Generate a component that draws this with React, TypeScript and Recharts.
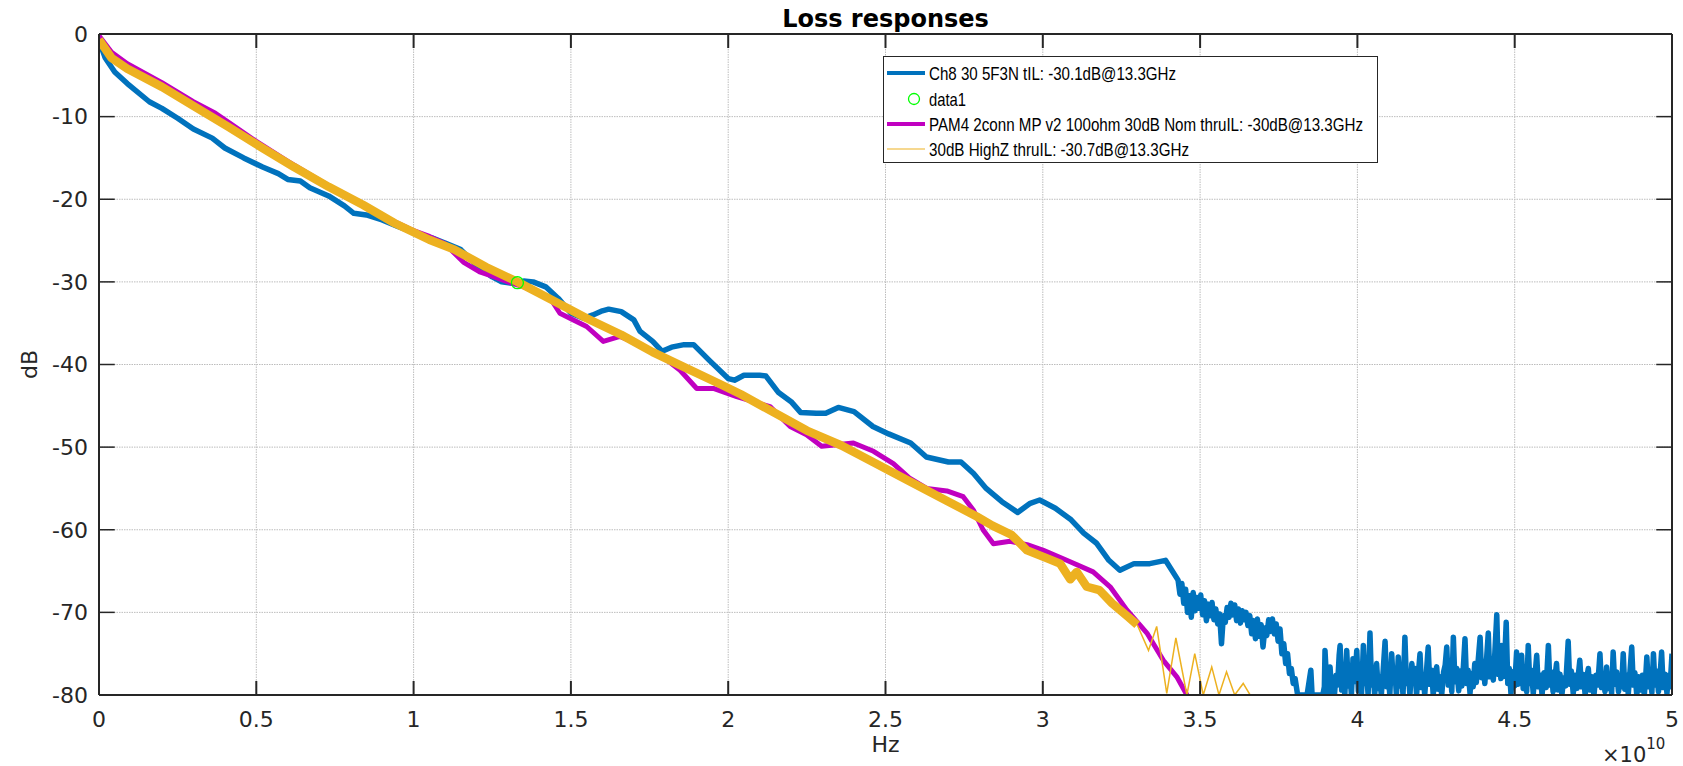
import { ComposedChart, Line, Scatter, XAxis, YAxis, CartesianGrid, ReferenceLine, Legend } from 'recharts';

// frequency in units of 1e10 Hz, loss in dB
const X_TICKS = [0, 0.5, 1, 1.5, 2, 2.5, 3, 3.5, 4, 4.5, 5];
const Y_TICKS = [-80, -70, -60, -50, -40, -30, -20, -10, 0];

const CH8_TREND: [number, number][] = [
    [0, -0.8], [0.02, -2.9], [0.05, -4.6], [0.09, -6.0], [0.16, -8.2], [0.2, -9.0], [0.25, -10.2],
    [0.3, -11.5], [0.36, -12.6], [0.4, -13.8], [0.46, -15.0], [0.52, -16.1], [0.57, -16.9], [0.6, -17.6],
    [0.64, -17.8], [0.67, -18.6], [0.73, -19.6], [0.78, -20.8], [0.81, -21.7], [0.85, -21.9], [0.9, -22.5],
    [0.95, -23.3], [1.0, -24.0], [1.06, -24.7], [1.1, -25.3], [1.15, -26.1], [1.2, -28.0], [1.25, -29.4],
    [1.28, -30.0], [1.32, -30.2], [1.35, -29.9], [1.38, -30.0], [1.42, -30.6], [1.46, -32.0], [1.5, -33.8],
    [1.54, -34.4], [1.57, -34.0], [1.6, -33.5], [1.62, -33.3], [1.66, -33.6], [1.7, -34.6], [1.72, -36.0],
    [1.76, -37.2], [1.79, -38.4], [1.82, -37.9], [1.86, -37.6], [1.89, -37.6], [1.94, -39.5], [2.0, -41.7],
    [2.02, -41.9], [2.05, -41.3], [2.1, -41.3], [2.12, -41.4], [2.16, -43.4], [2.2, -44.5], [2.23, -45.8],
    [2.28, -45.9], [2.31, -45.9], [2.35, -45.2], [2.4, -45.7], [2.46, -47.5], [2.51, -48.4], [2.58, -49.5],
    [2.63, -51.2], [2.7, -51.8], [2.74, -51.8], [2.78, -53.2], [2.82, -55.0], [2.87, -56.6], [2.92, -57.9],
    [2.96, -56.8], [2.99, -56.4], [3.04, -57.4], [3.09, -58.8], [3.13, -60.4], [3.17, -61.6], [3.21, -63.7],
    [3.245, -64.9], [3.29, -64.1], [3.34, -64.1], [3.39, -63.7], [3.43, -66.1],
];

const CH8_BAND: [number, number][] = [
    [3.436, -67.8], [3.442, -66.5], [3.448, -68.9], [3.454, -67.2], [3.46, -70.0], [3.466, -68.0],
    [3.472, -70.6], [3.478, -67.6], [3.484, -69.8], [3.49, -68.2], [3.496, -69.5], [3.502, -67.9],
    [3.508, -70.3], [3.514, -68.6], [3.52, -71.0], [3.526, -69.0], [3.532, -70.4], [3.538, -68.8],
    [3.544, -70.9], [3.55, -69.6], [3.556, -71.4], [3.562, -70.2], [3.568, -73.8], [3.574, -70.4],
    [3.58, -71.2], [3.586, -69.4], [3.592, -70.6], [3.598, -68.9], [3.604, -70.3], [3.61, -69.1],
    [3.616, -71.0], [3.622, -69.6], [3.628, -71.3], [3.634, -69.8], [3.64, -70.9], [3.646, -70.0],
    [3.652, -71.6], [3.658, -70.4], [3.664, -72.6], [3.67, -71.0], [3.676, -73.2], [3.682, -70.8],
    [3.688, -72.9], [3.694, -71.5], [3.7, -74.2], [3.706, -71.9], [3.712, -72.8], [3.718, -70.9],
    [3.724, -72.3], [3.73, -70.8], [3.736, -72.6], [3.742, -71.4], [3.748, -73.5], [3.754, -72.0],
    [3.76, -75.0], [3.766, -73.8], [3.772, -76.2], [3.778, -75.0], [3.784, -77.4], [3.79, -76.8],
    [3.796, -78.6], [3.802, -78.0], [3.81, -80],
];

const CH8_FLOOR: [number, number][] = [
    [3.82, -80], [3.84, -80], [3.848, -78.0], [3.852, -77.0], [3.856, -80], [3.89, -80], [3.895, -79.0],
    [3.897, -74.6], [3.902, -78.2], [3.906, -80], [3.91, -77.4], [3.913, -76.6], [3.918, -79.6], [3.922, -77.9],
    [3.927, -80], [3.932, -77.6], [3.937, -78.8], [3.942, -75.2], [3.945, -74.0], [3.95, -79.4], [3.955, -77.8],
    [3.96, -80], [3.966, -74.6], [3.971, -78.9], [3.976, -77.2], [3.981, -80], [3.986, -75.6], [3.99, -78.4],
    [3.994, -77.0], [3.998, -74.6], [4.003, -79.5], [4.008, -77.6], [4.013, -80], [4.019, -74.0], [4.024, -78.6],
    [4.029, -77.1], [4.034, -80], [4.04, -72.5], [4.045, -78.8], [4.05, -77.3], [4.055, -80], [4.061, -76.2],
    [4.066, -79.2], [4.071, -77.8], [4.076, -80], [4.082, -77.0], [4.088, -73.5], [4.093, -79.0], [4.098, -77.4],
    [4.103, -80], [4.109, -75.0], [4.114, -78.5], [4.119, -76.9], [4.124, -80], [4.13, -75.4], [4.135, -78.9],
    [4.14, -77.2], [4.145, -80], [4.151, -73.0], [4.156, -78.6], [4.162, -77.5], [4.167, -80], [4.173, -76.2],
    [4.178, -78.4], [4.183, -76.8], [4.188, -80], [4.194, -77.3], [4.199, -75.0], [4.204, -79.1], [4.209, -77.6],
    [4.214, -80], [4.22, -76.9], [4.225, -74.2], [4.23, -78.7], [4.236, -77.0], [4.241, -80], [4.246, -77.6],
    [4.252, -76.6], [4.257, -79.3], [4.262, -77.8], [4.268, -80], [4.274, -77.2], [4.279, -76.4], [4.284, -74.2],
    [4.289, -78.8], [4.295, -76.9], [4.3, -79.6], [4.305, -73.0], [4.31, -78.4], [4.316, -76.8], [4.322, -79.5],
    [4.327, -77.1], [4.332, -78.9], [4.337, -76.5], [4.342, -73.2], [4.347, -78.6], [4.352, -77.0], [4.358, -79.8],
    [4.363, -77.4], [4.368, -79.0], [4.373, -76.2], [4.378, -78.5], [4.384, -75.8], [4.39, -73.0], [4.395, -77.9],
    [4.4, -75.9], [4.405, -78.6], [4.41, -76.0], [4.416, -72.5], [4.421, -77.8], [4.426, -75.6], [4.432, -78.2],
    [4.437, -74.8], [4.443, -70.3], [4.448, -77.5], [4.452, -75.4], [4.456, -78.0], [4.459, -74.0], [4.463, -77.8],
    [4.468, -75.8], [4.473, -71.2], [4.478, -78.6], [4.483, -76.8], [4.488, -79.8], [4.494, -77.2], [4.5, -78.9],
    [4.506, -74.8], [4.511, -78.7], [4.516, -77.0], [4.522, -75.2], [4.527, -79.2], [4.533, -77.3], [4.538, -79.6],
    [4.543, -74.0], [4.548, -78.6], [4.553, -77.0], [4.559, -79.8], [4.565, -77.4], [4.57, -75.2], [4.575, -79.0],
    [4.581, -77.6], [4.587, -80], [4.593, -77.3], [4.6, -79.1], [4.607, -74.0], [4.612, -78.8], [4.617, -77.2],
    [4.622, -79.6], [4.628, -77.8], [4.633, -76.2], [4.638, -79.4], [4.644, -77.5], [4.65, -80], [4.656, -77.9],
    [4.662, -78.9], [4.67, -73.5], [4.675, -78.7], [4.68, -77.1], [4.686, -79.8], [4.692, -77.6], [4.698, -79.2],
    [4.703, -77.3], [4.707, -75.8], [4.712, -79.0], [4.718, -77.5], [4.724, -80], [4.729, -77.9], [4.734, -76.8],
    [4.739, -79.4], [4.745, -77.8], [4.752, -80], [4.758, -77.6], [4.764, -78.8], [4.771, -75.0], [4.776, -79.1],
    [4.781, -77.4], [4.787, -79.6], [4.792, -76.6], [4.797, -79.2], [4.803, -77.5], [4.808, -79.8], [4.813, -74.8],
    [4.818, -78.7], [4.824, -77.2], [4.83, -79.6], [4.835, -77.8], [4.84, -79.0], [4.845, -75.0], [4.85, -79.3],
    [4.856, -77.6], [4.861, -79.9], [4.866, -77.4], [4.872, -74.2], [4.877, -78.8], [4.882, -77.3], [4.888, -80],
    [4.894, -77.8], [4.9, -79.4], [4.906, -77.6], [4.912, -80], [4.917, -77.4], [4.92, -75.4], [4.925, -79.0],
    [4.93, -77.2], [4.936, -79.7], [4.941, -75.0], [4.946, -78.8], [4.951, -77.1], [4.957, -79.6], [4.962, -77.7],
    [4.967, -74.8], [4.972, -79.1], [4.978, -77.5], [4.984, -79.8], [4.989, -77.6], [4.994, -79.0], [5.0, -75.0],
];

const PAM4_LOSS: [number, number][] = [
    [0, -0.2], [0.04, -2.2], [0.09, -3.6], [0.2, -5.9], [0.3, -8.2], [0.37, -9.6], [0.42, -10.9], [0.5, -13.0],
    [0.6, -15.4], [0.7, -17.7], [0.8, -19.9], [0.9, -22.0], [1.0, -23.8], [1.05, -24.5], [1.1, -25.4],
    [1.158, -27.6], [1.21, -28.8], [1.25, -29.3], [1.3, -30.0], [1.35, -30.6], [1.4, -31.5], [1.44, -32.3],
    [1.465, -33.8], [1.508, -34.6], [1.55, -35.4], [1.603, -37.2], [1.656, -36.6], [1.7, -37.3], [1.75, -38.3],
    [1.8, -39.3], [1.847, -40.7], [1.9, -42.9], [1.953, -42.9], [2.027, -43.9], [2.08, -44.5], [2.133, -45.1],
    [2.197, -47.5], [2.249, -48.5], [2.297, -49.9], [2.345, -49.7], [2.398, -49.5], [2.462, -50.5],
    [2.525, -52.0], [2.578, -53.8], [2.631, -55.0], [2.695, -55.3], [2.747, -56.0], [2.779, -57.6],
    [2.81, -60.0], [2.843, -61.7], [2.896, -61.4], [2.95, -61.8], [3.002, -62.5], [3.076, -63.7],
    [3.16, -65.1], [3.214, -66.9], [3.267, -69.7], [3.331, -72.5], [3.383, -75.8], [3.426, -77.8], [3.458, -80],
];

const HIGHZ_LOSS: [number, number][] = [
    [0, -0.7], [0.04, -2.9], [0.09, -4.2], [0.2, -6.4], [0.3, -8.7], [0.41, -11.2], [0.52, -13.8], [0.62, -16.1],
    [0.73, -18.5], [0.84, -20.7], [0.94, -22.9], [1.05, -24.9], [1.13, -26.1], [1.23, -28.2], [1.33, -30.0],
    [1.44, -32.2], [1.55, -34.4], [1.66, -36.4], [1.76, -38.5], [1.87, -40.5], [1.97, -42.3], [2.04, -43.6],
    [2.14, -45.7], [2.25, -48.0], [2.36, -49.8], [2.46, -51.8], [2.57, -54.0], [2.67, -56.0], [2.74, -57.4],
    [2.79, -58.4], [2.84, -59.5], [2.9, -60.6], [2.95, -62.5], [3.01, -63.4], [3.055, -64.1], [3.087, -66.0],
    [3.108, -65.1], [3.14, -66.9], [3.18, -67.3], [3.22, -68.9], [3.27, -70.5], [3.3, -71.5], [3.336, -74.6],
    [3.362, -71.7], [3.394, -79.8], [3.423, -73.1], [3.458, -80], [3.483, -75.0], [3.51, -80], [3.537, -76.6],
    [3.56, -80], [3.584, -77.2], [3.61, -80], [3.637, -78.6], [3.659, -80],
];

const MARKER: [number, number][] = [[1.33, -30.1]];

const LEGEND_LABELS = [
    'Ch8 30 5F3N tIL: -30.1dB@13.3GHz',
    'data1',
    'PAM4 2conn MP v2 100ohm 30dB Nom thruIL: -30dB@13.3GHz',
    '30dB HighZ thruIL: -30.7dB@13.3GHz',
];

const toPoints = (rows: [number, number][]) => rows.map(([x, y]) => ({ x, y }));

const ch8Data = toPoints([...CH8_TREND, ...CH8_BAND, ...CH8_FLOOR]);
const pam4Data = toPoints(PAM4_LOSS);
const highZData = toPoints(HIGHZ_LOSS);
const highZBand = highZData.filter((p) => p.x <= 3.3);
const highZRipple = highZData.filter((p) => p.x >= 3.3);
const markerData = toPoints(MARKER);

const AXIS = '#262626';
const FONT = "'DejaVu Sans', sans-serif";

function LossLegend() {
    // the legend font in the figure is narrow and tall
    const textWidths = [247, 37, 434, 260];
    const rows = [17, 43, 68, 93];
    return (
        <svg width={495} height={107} style={{ display: 'block' }}>
            <rect x={0.5} y={0.5} width={494} height={106} fill="#fff" stroke={AXIS} strokeWidth={1} />
            <line x1={4} x2={42} y1={rows[0]} y2={rows[0]} stroke="#0072BD" strokeWidth={4} />
            <circle cx={31} cy={rows[1]} r={5.5} fill="none" stroke="#00ff00" strokeWidth={1.3} />
            <line x1={4} x2={42} y1={rows[2]} y2={rows[2]} stroke="#C000C0" strokeWidth={4} />
            <line x1={4} x2={42} y1={rows[3]} y2={rows[3]} stroke="#EDB120" strokeWidth={1} />
            {LEGEND_LABELS.map((label, i) => (
                <text
                    key={label}
                    transform={`translate(46 ${rows[i] + 7}) scale(1 1.22)`}
                    fontSize={15.2}
                    fontFamily="'Liberation Sans', Arial, sans-serif"
                    fill="#000"
                    textLength={textWidths[i]}
                    lengthAdjust="spacingAndGlyphs"
                >
                    {label}
                </text>
            ))}
        </svg>
    );
}

export default function App() {
    const tickStyle = { fill: AXIS, fontSize: 22, fontFamily: FONT };
    const inner = X_TICKS.slice(1, -1);
    const innerY = Y_TICKS.slice(1, -1);

    return (
        <div style={{ position: 'absolute', left: 0, top: 0, width: 1683, height: 766, background: '#fff' }}>
            <ComposedChart width={1683} height={766} margin={{ top: 34, right: 11, bottom: 31, left: 9 }}>
                <CartesianGrid stroke="#bdbdbd" strokeDasharray="1.5 1" />
                <XAxis
                    type="number"
                    dataKey="x"
                    domain={[0, 5]}
                    ticks={X_TICKS}
                    allowDataOverflow
                    height={40}
                    tickSize={0}
                    tickMargin={16}
                    tickLine={false}
                    tick={tickStyle}
                    axisLine={{ stroke: AXIS, strokeWidth: 2 }}
                />
                <YAxis
                    type="number"
                    domain={[-80, 0]}
                    ticks={Y_TICKS}
                    allowDataOverflow
                    width={90}
                    tickSize={0}
                    tickMargin={11}
                    tickLine={false}
                    tick={tickStyle}
                    axisLine={{ stroke: AXIS, strokeWidth: 2 }}
                />

                <Line data={ch8Data} dataKey="y" name={LEGEND_LABELS[0]} stroke="#0072BD" strokeWidth={5.5}
                    strokeLinejoin="round" dot={false} activeDot={false} isAnimationActive={false} />
                <Scatter data={markerData} dataKey="y" name={LEGEND_LABELS[1]} isAnimationActive={false}
                    shape={(p: any) => <circle cx={p.cx} cy={p.cy} r={6} fill="none" stroke="#00ff00" strokeWidth={1.3} />} />
                <Line data={pam4Data} dataKey="y" name={LEGEND_LABELS[2]} stroke="#C000C0" strokeWidth={5}
                    strokeLinejoin="round" dot={false} activeDot={false} isAnimationActive={false} />
                <Line data={highZBand} dataKey="y" name={LEGEND_LABELS[3]} stroke="#EDB120" strokeWidth={8.5}
                    strokeLinejoin="round" dot={false} activeDot={false} isAnimationActive={false} />
                <Line data={highZRipple} dataKey="y" name={LEGEND_LABELS[3] + ' '} stroke="#EDB120" strokeWidth={1.5}
                    dot={false} activeDot={false} isAnimationActive={false} />

                {/* box and inward ticks, matlab style */}
                <ReferenceLine y={0} stroke={AXIS} strokeWidth={2} />
                <ReferenceLine x={5} stroke={AXIS} strokeWidth={2} />
                {inner.map((t) => (
                    <ReferenceLine key={'xb' + t} segment={[{ x: t, y: -80 }, { x: t, y: -78.3 }]} stroke={AXIS} strokeWidth={2} />
                ))}
                {inner.map((t) => (
                    <ReferenceLine key={'xt' + t} segment={[{ x: t, y: 0 }, { x: t, y: -1.7 }]} stroke={AXIS} strokeWidth={2} />
                ))}
                {innerY.map((t) => (
                    <ReferenceLine key={'yl' + t} segment={[{ x: 0, y: t }, { x: 0.05, y: t }]} stroke={AXIS} strokeWidth={1.5} />
                ))}
                {innerY.map((t) => (
                    <ReferenceLine key={'yr' + t} segment={[{ x: 5, y: t }, { x: 4.95, y: t }]} stroke={AXIS} strokeWidth={1.5} />
                ))}

                <Legend
                    layout="vertical"
                    align="center"
                    verticalAlign="middle"
                    content={() => <LossLegend />}
                    wrapperStyle={{ left: 883, top: 56, width: 495, height: 107 }}
                />
            </ComposedChart>

            {/* title, axis labels and exponent */}
            <svg width={1683} height={766} style={{ position: 'absolute', left: 0, top: 0, pointerEvents: 'none' }}>
                <text x={885.5} y={27} textAnchor="middle" fontSize={24} fontWeight="bold" fontFamily={FONT} fill="#000">
                    Loss responses
                </text>
                <text x={885.5} y={752} textAnchor="middle" fontSize={22} fontFamily={FONT} fill={AXIS}>
                    Hz
                </text>
                <text transform="translate(37,364.5) rotate(-90)" textAnchor="middle" fontSize={22} fontFamily={FONT} fill={AXIS}>
                    dB
                </text>
                <text x={1602} y={762} fontSize={21} fontFamily={FONT} fill={AXIS}>
                    ×10
                    <tspan dy={-13} fontSize={15}>10</tspan>
                </text>
            </svg>
        </div>
    );
}
